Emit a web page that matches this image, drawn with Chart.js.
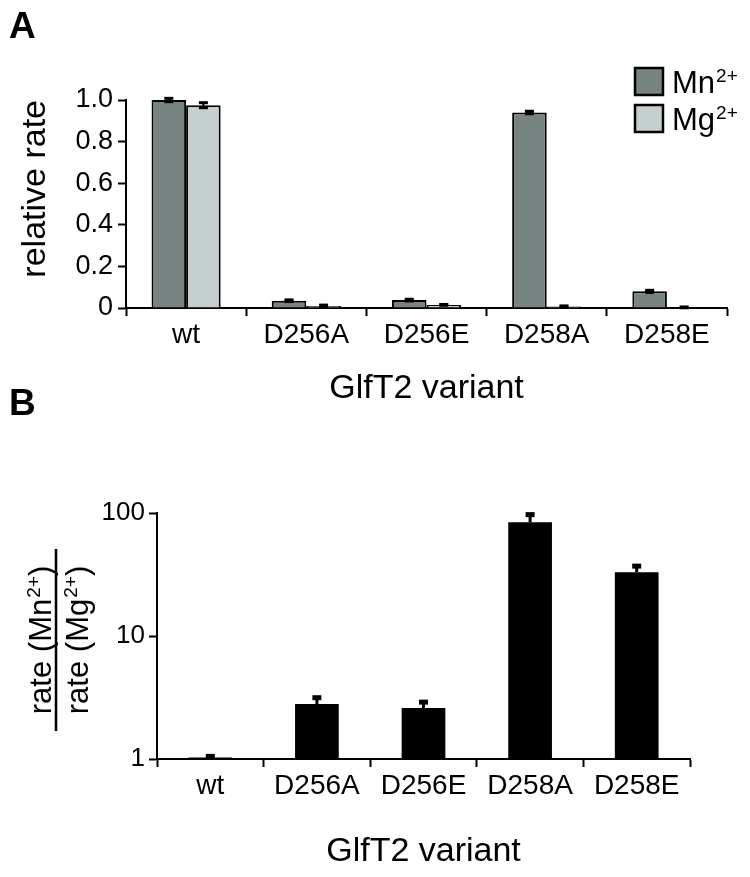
<!DOCTYPE html>
<html>
<head>
<meta charset="utf-8">
<script src="https://cdn.jsdelivr.net/npm/chart.js@4.4.1/dist/chart.umd.min.js"></script>
<style>
  body { margin: 0; background: #fff; width: 750px; height: 877px; position: relative; overflow: hidden; font-family: 'Liberation Sans', Arial, sans-serif; }
  .box { position: absolute; left: 0; }
  .panel-label { position: absolute; left: 9px; font-weight: bold; font-size: 37px; line-height: 37px; }
</style>
</head>
<body>
<div class="box" style="top:0"><canvas id="chartA" width="750" height="412"></canvas></div>
<div class="box" style="top:412px"><canvas id="chartB" width="750" height="465"></canvas></div>
<div class="panel-label" style="top:7px">A</div>
<div class="panel-label" style="top:384px">B</div>
<script>
// values
const categories = ['wt', 'D256A', 'D256E', 'D258A', 'D258E'];
const seriesNames = ['Mn', 'Mg'];
const mnRate = [1.0, 0.035, 0.038, 0.94, 0.08];
const mnErr = [0.008, 0.004, 0.004, 0.006, 0.005];
const mgRate = [0.975, 0.01, 0.015, 0.007, 0.003];
const mgErr = [0.012, 0.004, 0.002, 0.003, 0.002];
const rateTicks = [0, 0.2, 0.4, 0.6, 0.8, 1.0];
const ratio = [1.03, 2.8, 2.6, 84, 33];
const ratioErr = [0.02, 0.35, 0.3, 13, 4];
const ratioTicks = [1, 10, 100];

const FONT = "'Liberation Sans', Arial, Helvetica, sans-serif";
const mnColor = 'rgb(118,131,129)';
const mgColor = 'rgb(198,207,207)';

Chart.defaults.color = '#000';
Chart.defaults.font.family = FONT;

// text with a raised "2+" charge
function chargeText(ctx, x, y, base, sup, tail, size, draw) {
  const s = Math.round(size * 0.6);
  ctx.font = size + 'px ' + FONT;
  const w1 = ctx.measureText(base).width;
  const w3 = tail ? ctx.measureText(tail).width : 0;
  ctx.font = s + 'px ' + FONT;
  const w2 = ctx.measureText(sup).width + 1;
  if (draw) {
    ctx.font = size + 'px ' + FONT;
    ctx.fillText(base, x, y);
    if (tail) ctx.fillText(tail, x + w1 + w2, y);
    ctx.font = s + 'px ' + FONT;
    ctx.fillText(sup, x + w1 + 1, y - size * 0.37);
  }
  return w1 + w2 + w3;
}

const errorBars = {
  id: 'errorBars',
  afterDatasetsDraw(chart, args, opts) {
    const ctx = chart.ctx;
    const y = chart.scales.y;
    ctx.save();
    ctx.fillStyle = '#000';
    chart.data.datasets.forEach((ds, i) => {
      if (!ds.errors) return;
      chart.getDatasetMeta(i).data.forEach((bar, j) => {
        const v = ds.data[j], e = ds.errors[j];
        const top = y.getPixelForValue(v + e);
        const bottom = opts.both ? Math.min(y.getPixelForValue(v - e), chart.chartArea.bottom) : bar.y;
        ctx.fillRect(bar.x - opts.lw / 2, top, opts.lw, bottom - top);
        ctx.fillRect(bar.x - opts.cap / 2, top - opts.capH / 2, opts.cap, opts.capH);
        if (opts.both) ctx.fillRect(bar.x - opts.cap / 2, bottom - opts.capH / 2, opts.cap, opts.capH);
      });
    });
    ctx.restore();
  }
};

const legendA = {
  id: 'legendA',
  afterDraw(chart) {
    const ctx = chart.ctx;
    const area = chart.chartArea;
    ctx.save();
    chart.data.datasets.forEach((ds, k) => {
      const bx = area.right - 92, by = area.top - 32 + k * 37;
      ctx.fillStyle = ds.backgroundColor;
      ctx.fillRect(bx, by, 28, 27);
      ctx.lineWidth = 2.5;
      ctx.strokeStyle = '#000';
      ctx.strokeRect(bx, by, 28, 27);
      ctx.fillStyle = '#000';
      ctx.textBaseline = 'alphabetic';
      chargeText(ctx, bx + 37, by + 25, seriesNames[k], '2+', '', 31, true);
    });
    ctx.restore();
  }
};

const fractionTitle = {
  id: 'fractionTitle',
  afterDraw(chart) {
    const ctx = chart.ctx;
    const area = chart.chartArea;
    const cy = (area.top + area.bottom) / 2 + 4;
    const lineX = area.left - 101;
    ctx.save();
    ctx.fillStyle = '#000';
    ctx.textBaseline = 'alphabetic';
    [[area.left - 106, seriesNames[0]], [area.left - 69, seriesNames[1]]].forEach(([bx, ion]) => {
      ctx.save();
      ctx.translate(bx, cy);
      ctx.rotate(-Math.PI / 2);
      const w = chargeText(ctx, 0, 0, 'rate (' + ion, '2+', ')', 31, false);
      chargeText(ctx, -w / 2, 0, 'rate (' + ion, '2+', ')', 31, true);
      ctx.restore();
    });
    ctx.fillRect(lineX - 1.25, cy - 91, 2.5, 182);
    ctx.restore();
  }
};

function axisGrid(offset) {
  return { display: true, drawOnChartArea: false, drawTicks: true, tickLength: 8, tickWidth: 2, tickColor: '#000', offset: offset };
}
const axisBorder = { display: true, color: '#000', width: 2 };

new Chart(document.getElementById('chartA').getContext('2d'), {
  type: 'bar',
  data: {
    labels: categories,
    datasets: [
      { label: 'Mn²⁺', data: mnRate, errors: mnErr, backgroundColor: mnColor, borderColor: '#000', borderWidth: 2 },
      { label: 'Mg²⁺', data: mgRate, errors: mgErr, backgroundColor: mgColor, borderColor: '#000', borderWidth: 2 }
    ]
  },
  options: {
    responsive: false,
    animation: false,
    layout: { padding: { top: 100, right: 23, left: 0, bottom: 0 } },
    datasets: { bar: { categoryPercentage: 0.575, barPercentage: 1 } },
    scales: {
      x: {
        grid: axisGrid(true),
        border: axisBorder,
        ticks: { font: { size: 28 }, padding: 2, maxRotation: 0, autoSkip: false },
        title: { display: true, text: 'GlfT2 variant', font: { size: 34 }, padding: { top: 0, bottom: 3 } },
        afterFit: s => { s.height = 104; }
      },
      y: {
        min: 0,
        max: 1,
        afterBuildTicks: s => { s.ticks = rateTicks.map(v => ({ value: v })); },
        ticks: { font: { size: 27 }, padding: 5, callback: v => v === 0 ? '0' : v.toFixed(1) },
        grid: axisGrid(false),
        border: axisBorder,
        title: { display: true, text: 'relative rate', align: 'end', font: { size: 34 }, padding: { top: 15, bottom: 0 } },
        afterFit: s => { s.width = 126; }
      }
    },
    plugins: {
      legend: { display: false },
      tooltip: { enabled: false },
      errorBars: { both: true, lw: 2, cap: 9, capH: 3 }
    }
  },
  plugins: [errorBars, legendA]
});

new Chart(document.getElementById('chartB').getContext('2d'), {
  type: 'bar',
  data: {
    labels: categories,
    datasets: [
      { label: 'rate (Mn²⁺) / rate (Mg²⁺)', data: ratio, errors: ratioErr, backgroundColor: '#000', borderWidth: 0 }
    ]
  },
  options: {
    responsive: false,
    animation: false,
    layout: { padding: { top: 101, right: 60, left: 0, bottom: 0 } },
    datasets: { bar: { categoryPercentage: 0.41, barPercentage: 1 } },
    scales: {
      x: {
        grid: axisGrid(true),
        border: axisBorder,
        ticks: { font: { size: 28 }, padding: 2, maxRotation: 0, autoSkip: false },
        title: { display: true, text: 'GlfT2 variant', font: { size: 34 }, padding: { top: 0, bottom: 5 } },
        afterFit: s => { s.height = 118; }
      },
      y: {
        type: 'logarithmic',
        min: 1,
        max: 100,
        afterBuildTicks: s => { s.ticks = ratioTicks.map(v => ({ value: v })); },
        ticks: { font: { size: 26 }, padding: 4, callback: v => String(v) },
        grid: axisGrid(false),
        border: axisBorder,
        afterFit: s => { s.width = 157; }
      }
    },
    plugins: {
      legend: { display: false },
      tooltip: { enabled: false },
      errorBars: { both: false, lw: 3, cap: 9, capH: 5 }
    }
  },
  plugins: [errorBars, fractionTitle]
});
</script>
</body>
</html>
